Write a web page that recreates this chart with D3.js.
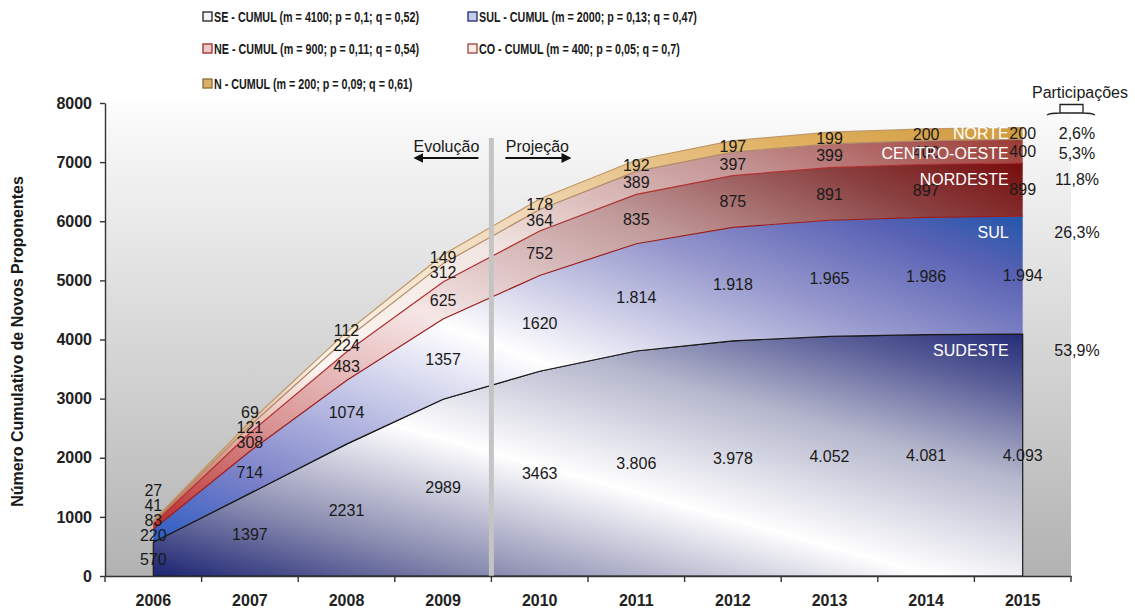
<!DOCTYPE html>
<html>
<head>
<meta charset="utf-8">
<script src="https://cdn.jsdelivr.net/npm/d3@7"></script>
<style>
  html, body { margin: 0; padding: 0; background: #ffffff; }
  svg { display: block; font-family: "Liberation Sans", Arial, sans-serif; }
</style>
</head>
<body>
<svg id="chart" width="1135" height="613"></svg>
<script>
// ---------------- DATA ----------------
const years = [2006, 2007, 2008, 2009, 2010, 2011, 2012, 2013, 2014, 2015];
const seriesKeys = ["SE", "SUL", "NE", "CO", "N"];
const regionNames = ["SUDESTE", "SUL", "NORDESTE", "CENTRO-OESTE", "NORTE"];
const seValues  = [570, 1397, 2231, 2989, 3463, 3806, 3978, 4052, 4081, 4093];
const sulValues = [220, 714, 1074, 1357, 1620, 1814, 1918, 1965, 1986, 1994];
const neValues  = [83, 308, 483, 625, 752, 835, 875, 891, 897, 899];
const coValues  = [41, 121, 224, 312, 364, 389, 397, 399, 400, 400];
const nValues   = [27, 69, 112, 149, 178, 192, 197, 199, 200, 200];
const mParams = [4100, 2000, 900, 400, 200];
const pParams = [0.1, 0.13, 0.11, 0.05, 0.09];
const qParams = [0.52, 0.47, 0.54, 0.7, 0.61];
const yTicks = [0, 1000, 2000, 3000, 4000, 5000, 6000, 7000, 8000];
const firstProjectionYear = 2010;
const firstDottedLabelYear = 2011;
const yTitle = "Número Cumulativo de Novos Proponentes";
const shareTitle = "Participações";
const evolText = "Evolução";
const projText = "Projeção";

// ---------------- STYLES ----------------
const gradStops = {
  SE:  [[0, "#1b2372"], [0.2, "#8a8cb0"], [0.45, "#ffffff"], [0.7, "#b4b6cc"], [0.88, "#5a5e98"], [1, "#242c78"]],
  SUL: [[0, "#2a5cc4"], [0.15, "#7a80c8"], [0.5, "#ffffff"], [0.75, "#9496cc"], [0.9, "#5a62b4"], [1, "#2256aa"]],
  NE:  [[0, "#b82c2c"], [0.2, "#d89090"], [0.45, "#f6e6e6"], [0.7, "#c09898"], [0.88, "#8a4040"], [1, "#780c0c"]],
  CO:  [[0, "#c05a48"], [0.3, "#fdf6f2"], [0.55, "#f2e6e2"], [0.8, "#c49494"], [1, "#9c3a34"]],
  N:   [[0, "#b8703c"], [0.3, "#fcf4ea"], [0.6, "#f0d8b8"], [0.85, "#e0b060"], [1, "#d09a3c"]]
};
const topStroke = { SE: "#1a1a1a", SUL: "#9c1c1c", NE: "#b03030", CO: "#b08a6a", N: "#c09868" };
const swatchFill = { SE: "#f4f4f8", SUL: "#c8cce8", NE: "#ecc8c8", CO: "#f8ece8", N: "#dcae68" };
const swatchStroke = { SE: "#222222", SUL: "#1e2a6e", NE: "#a02828", CO: "#a04040", N: "#8a6a3a" };

// ---------------- SETUP ----------------
const svg = d3.select("#chart");
const defs = svg.append("defs");
const pL = 105, pR = 1071, pT = 103, pB = 576;

const x = d3.scaleBand().domain(years).range([pL, pR]).paddingInner(0).paddingOuter(0);
const y = d3.scaleLinear().domain([0, 8000]).range([pB, pT]);
const cx = yr => x(yr) + x.bandwidth() / 2;

const rows = years.map((yr, i) => ({
  year: yr, SE: seValues[i], SUL: sulValues[i], NE: neValues[i], CO: coValues[i], N: nValues[i]
}));
const stacked = d3.stack().keys(seriesKeys)(rows);

const bg = defs.append("linearGradient").attr("id", "bgGrad")
  .attr("x1", 0).attr("y1", 0).attr("x2", 0).attr("y2", 1);
bg.append("stop").attr("offset", 0).attr("stop-color", "#fcfcfc");
bg.append("stop").attr("offset", 1).attr("stop-color", "#b2b2b2");

seriesKeys.forEach(k => {
  const g = defs.append("linearGradient").attr("id", "grad" + k)
    .attr("x1", 0).attr("y1", 1).attr("x2", 1).attr("y2", 0);
  gradStops[k].forEach(s => g.append("stop").attr("offset", s[0]).attr("stop-color", s[1]));
});

svg.append("rect").attr("x", pL).attr("y", pT)
  .attr("width", pR - pL).attr("height", pB - pT)
  .attr("fill", "url(#bgGrad)");

const area = d3.area()
  .x(d => cx(d.data.year))
  .y0(d => y(d[0]))
  .y1(d => y(d[1]));
const topLine = d3.line().x(d => cx(d.data.year)).y(d => y(d[1]));

const areaG = svg.append("g");
stacked.forEach(s => {
  areaG.append("path").attr("d", area(s))
    .attr("fill", "url(#grad" + s.key + ")")
    .attr("stroke", s.key === "SE" ? topStroke.SE : "none")
    .attr("stroke-width", 1.2);
});
stacked.forEach(s => {
  areaG.append("path").attr("d", topLine(s))
    .attr("fill", "none")
    .attr("stroke", topStroke[s.key])
    .attr("stroke-width", 1.2);
});

const divX = x(firstProjectionYear);
svg.append("line").attr("x1", divX).attr("x2", divX)
  .attr("y1", pT + 35).attr("y2", pB)
  .attr("stroke", "#c4c4c4").attr("stroke-width", 5);

const mk = defs.append("marker").attr("id", "arrowHead")
  .attr("viewBox", "0 0 10 10").attr("refX", 8).attr("refY", 5)
  .attr("markerWidth", 4.5).attr("markerHeight", 4.5)
  .attr("markerUnits", "strokeWidth")
  .attr("orient", "auto");
mk.append("path").attr("d", "M0,0 L10,5 L0,10 Z").attr("fill", "#111");
const arrowY = 158;
svg.append("line").attr("x1", divX - 13).attr("x2", divX - 76)
  .attr("y1", arrowY).attr("y2", arrowY)
  .attr("stroke", "#111").attr("stroke-width", 2.2).attr("marker-end", "url(#arrowHead)");
svg.append("line").attr("x1", divX + 14).attr("x2", divX + 78)
  .attr("y1", arrowY).attr("y2", arrowY)
  .attr("stroke", "#111").attr("stroke-width", 2.2).attr("marker-end", "url(#arrowHead)");
svg.append("text").attr("x", divX - 45).attr("y", 151.5).attr("text-anchor", "middle")
  .attr("font-size", 16).attr("fill", "#1a1a1a").text(evolText);
svg.append("text").attr("x", divX + 46).attr("y", 151.5).attr("text-anchor", "middle")
  .attr("font-size", 16).attr("fill", "#1a1a1a").text(projText);

// ---------------- DATA LABELS ----------------
const ptLocale = d3.formatLocale({ decimal: ",", thousands: ".", grouping: [3], currency: ["R$", ""] });
const fmtDot = ptLocale.format(",d");
const fmtPlain = d3.format("d");
const labelG = svg.append("g").attr("font-size", 16).attr("fill", "#1a1a1a").attr("text-anchor", "middle");
years.forEach((yr, i) => {
  let prev = Infinity;
  stacked.forEach(s => {
    const d = s[i];
    let py = y((d[0] + d[1]) / 2);
    py = Math.min(py, prev - 15);
    prev = py;
    const v = d[1] - d[0];
    labelG.append("text").attr("x", cx(yr)).attr("y", py).attr("dy", "0.35em")
      .text(yr >= firstDottedLabelYear ? fmtDot(v) : fmtPlain(v));
  });
});

// ---------------- REGION NAMES & SHARES ----------------
const totalM = d3.sum(mParams);
const fmtPct = v => d3.format(".1%")(v).replace(".", ",");
const lastI = years.length - 1;
const regionYs = stacked.map(s => {
  const d = s[lastI];
  return Math.min(y((d[0] + d[1]) / 2), y(d[1]) + 16);
});
let prevY = -Infinity;
d3.range(stacked.length).reverse().forEach(j => {
  regionYs[j] = Math.max(regionYs[j], prevY + 20); prevY = regionYs[j];
});

const nameG = svg.append("g").attr("font-size", 16).attr("fill", "#ffffff").attr("text-anchor", "end");
stacked.forEach((s, j) => {
  nameG.append("text").attr("x", cx(years[lastI]) - 14).attr("y", regionYs[j]).attr("dy", "0.35em")
    .text(regionNames[j]);
});
const pctG = svg.append("g").attr("font-size", 16).attr("fill", "#1a1a1a").attr("text-anchor", "middle");
stacked.forEach((s, j) => {
  pctG.append("text").attr("x", 1077).attr("y", regionYs[j]).attr("dy", "0.35em")
    .text(fmtPct(mParams[j] / totalM));
});
svg.append("text").attr("x", 1080).attr("y", 97.5).attr("text-anchor", "middle")
  .attr("font-size", 16).attr("fill", "#1a1a1a").text(shareTitle);
svg.append("path")
  .attr("d", "M1047,115 Q1050,113 1060,113 L1060,104.5 L1083,104.5 L1083,113 Q1092,113 1095,115 M1060,113 L1083,113")
  .attr("fill", "none").attr("stroke", "#222").attr("stroke-width", 1.3);

// ---------------- AXES ----------------
const yAxis = svg.append("g").attr("transform", `translate(${pL},0)`)
  .call(d3.axisLeft(y).tickValues(yTicks).tickSize(5).tickSizeOuter(0).tickPadding(8).tickFormat(d3.format("d")));
yAxis.selectAll("text").attr("font-size", 16).attr("font-weight", "bold").attr("fill", "#222")
  .attr("font-family", '"Liberation Sans", Arial, sans-serif');
yAxis.selectAll("line, path").attr("stroke", "#333").attr("stroke-width", 1.4);

const xAxis = svg.append("g").attr("transform", `translate(0,${pB})`)
  .call(d3.axisBottom(x).tickSize(0).tickSizeOuter(0));
xAxis.select(".domain").attr("stroke", "#333").attr("stroke-width", 1.4);
xAxis.selectAll("text").attr("font-size", 16).attr("font-weight", "bold").attr("fill", "#222")
  .attr("y", 30).attr("dy", 0)
  .attr("font-family", '"Liberation Sans", Arial, sans-serif');
const boundaries = years.map(yr => x(yr)).concat([x.range()[1]]);
xAxis.selectAll(".bnd").data(boundaries).enter().append("line").attr("class", "bnd")
  .attr("x1", d => d).attr("x2", d => d).attr("y1", 0).attr("y2", 6)
  .attr("stroke", "#333").attr("stroke-width", 1.4);

svg.append("text").attr("transform", `translate(23,${(pT + pB) / 2 + 2}) rotate(-90)`)
  .attr("text-anchor", "middle").attr("font-size", 16).attr("font-weight", "bold")
  .attr("fill", "#1a1a1a").text(yTitle);

// ---------------- LEGEND ----------------
const fmtParam = v => String(v).replace(".", ",");
const legendPos = [[203, 17], [468, 17], [203, 49], [468, 49], [203, 84]];
const legendFirstWidth = 205; // width of first legend text in the reference (condensed font)
const legG = svg.append("g");
const legTexts = [];
seriesKeys.forEach((k, j) => {
  const [lx, ly] = legendPos[j];
  legG.append("rect").attr("x", lx).attr("y", ly - 5).attr("width", 9).attr("height", 9)
    .attr("fill", swatchFill[k]).attr("stroke", swatchStroke[k]).attr("stroke-width", 1.3);
  const t = legG.append("text").attr("x", lx + 11).attr("y", ly).attr("dy", "0.36em")
    .attr("font-size", 15).attr("font-weight", "bold").attr("fill", "#1a1a1a")
    .text(`${k} - CUMUL (m = ${mParams[j]}; p = ${fmtParam(pParams[j])}; q = ${fmtParam(qParams[j])})`);
  legTexts.push(t);
});
const squeeze = legendFirstWidth / legTexts[0].node().getComputedTextLength();
legTexts.forEach(t => {
  const w = t.node().getComputedTextLength();
  t.attr("textLength", w * squeeze).attr("lengthAdjust", "spacingAndGlyphs");
});
</script>
</body>
</html>
